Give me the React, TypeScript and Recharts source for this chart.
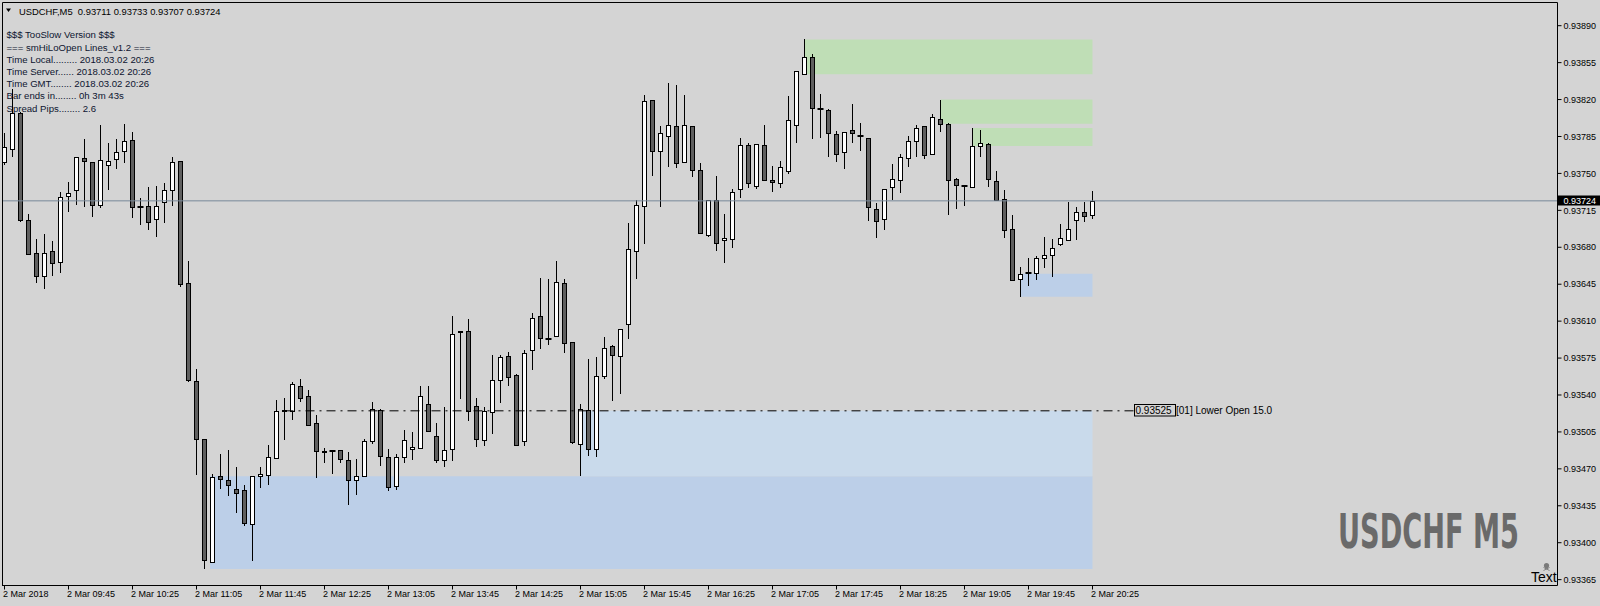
import React from 'react';
import { ComposedChart, Bar, XAxis, YAxis, ReferenceArea, ReferenceLine } from 'recharts';

// ---------- DATA (USDCHF M5, 2 Mar 2018 09:05 .. 20:25) ----------
const opens = [
  0.93761, 0.93773, 0.93807, 0.93706, 0.93675, 0.93653, 0.93676, 0.93666, 0.93729, 0.93734,
  0.93765, 0.93761, 0.93720, 0.93758, 0.93764, 0.93771, 0.93782, 0.93718, 0.93719, 0.93707,
  0.93723, 0.93734, 0.93762, 0.93646, 0.93553, 0.93498, 0.93382, 0.93463, 0.93459, 0.93451,
  0.93450, 0.93418, 0.93463, 0.93464, 0.93480, 0.93526, 0.93525, 0.93549, 0.93539, 0.93513,
  0.93487, 0.93487, 0.93488, 0.93478, 0.93459, 0.93463, 0.93496, 0.93526, 0.93481, 0.93454,
  0.93481, 0.93489, 0.93490, 0.93531, 0.93501, 0.93478, 0.93489, 0.93601, 0.93601, 0.93530,
  0.93497, 0.93524, 0.93554, 0.93577, 0.93559, 0.93496, 0.93583, 0.93615, 0.93593, 0.93596,
  0.93646, 0.93590, 0.93494, 0.93526, 0.93489, 0.93558, 0.93586, 0.93577, 0.93607, 0.93676,
  0.93719, 0.93820, 0.93771, 0.93785, 0.93795, 0.93761, 0.93795, 0.93753, 0.93692, 0.93725,
  0.93687, 0.93688, 0.93735, 0.93777, 0.93738, 0.93777, 0.93744, 0.93741, 0.93752, 0.93796,
  0.93844, 0.93860, 0.93811, 0.93810, 0.93787, 0.93770, 0.93791, 0.93785, 0.93784, 0.93716,
  0.93707, 0.93737, 0.93744, 0.93765, 0.93781, 0.93795, 0.93768, 0.93802, 0.93797, 0.93745,
  0.93738, 0.93737, 0.93776, 0.93778, 0.93743, 0.93726, 0.93697, 0.93650, 0.93656, 0.93656,
  0.93670, 0.93673, 0.93683, 0.93687, 0.93706, 0.93713, 0.93711,
];
const highs = [
  0.93788, 0.93830, 0.93808, 0.93712, 0.93688, 0.93693, 0.93686, 0.93732, 0.93742, 0.93766,
  0.93783, 0.93761, 0.93796, 0.93779, 0.93783, 0.93797, 0.93789, 0.93727, 0.93737, 0.93738,
  0.93741, 0.93766, 0.93762, 0.93667, 0.93565, 0.93498, 0.93465, 0.93484, 0.93488, 0.93472,
  0.93455, 0.93463, 0.93472, 0.93493, 0.93535, 0.93537, 0.93552, 0.93555, 0.93545, 0.93521,
  0.93490, 0.93488, 0.93488, 0.93486, 0.93479, 0.93498, 0.93533, 0.93527, 0.93489, 0.93484,
  0.93507, 0.93505, 0.93549, 0.93549, 0.93513, 0.93529, 0.93615, 0.93601, 0.93612, 0.93537,
  0.93529, 0.93578, 0.93578, 0.93581, 0.93560, 0.93583, 0.93618, 0.93651, 0.93650, 0.93667,
  0.93650, 0.93590, 0.93531, 0.93574, 0.93576, 0.93595, 0.93587, 0.93603, 0.93703, 0.93725,
  0.93824, 0.93820, 0.93795, 0.93836, 0.93834, 0.93824, 0.93795, 0.93760, 0.93725, 0.93748,
  0.93712, 0.93735, 0.93784, 0.93779, 0.93778, 0.93796, 0.93757, 0.93762, 0.93823, 0.93847,
  0.93877, 0.93863, 0.93825, 0.93811, 0.93790, 0.93789, 0.93816, 0.93798, 0.93784, 0.93722,
  0.93735, 0.93759, 0.93768, 0.93785, 0.93796, 0.93795, 0.93806, 0.93820, 0.93798, 0.93746,
  0.93738, 0.93793, 0.93791, 0.93779, 0.93752, 0.93734, 0.93711, 0.93661, 0.93670, 0.93672,
  0.93690, 0.93688, 0.93702, 0.93723, 0.93718, 0.93723, 0.93733,
];
const lows = [
  0.93758, 0.93766, 0.93704, 0.93673, 0.93646, 0.93640, 0.93653, 0.93656, 0.93713, 0.93720,
  0.93718, 0.93709, 0.93717, 0.93734, 0.93754, 0.93760, 0.93708, 0.93701, 0.93696, 0.93690,
  0.93703, 0.93719, 0.93642, 0.93552, 0.93464, 0.93375, 0.93381, 0.93451, 0.93444, 0.93428,
  0.93416, 0.93383, 0.93452, 0.93455, 0.93480, 0.93497, 0.93516, 0.93533, 0.93511, 0.93461,
  0.93476, 0.93465, 0.93476, 0.93436, 0.93445, 0.93462, 0.93494, 0.93473, 0.93449, 0.93450,
  0.93476, 0.93478, 0.93490, 0.93506, 0.93476, 0.93472, 0.93477, 0.93536, 0.93515, 0.93491,
  0.93492, 0.93503, 0.93532, 0.93549, 0.93492, 0.93492, 0.93564, 0.93584, 0.93587, 0.93596,
  0.93580, 0.93494, 0.93463, 0.93482, 0.93481, 0.93555, 0.93534, 0.93541, 0.93593, 0.93650,
  0.93683, 0.93748, 0.93718, 0.93756, 0.93755, 0.93761, 0.93747, 0.93693, 0.93690, 0.93676,
  0.93665, 0.93679, 0.93727, 0.93736, 0.93735, 0.93743, 0.93732, 0.93736, 0.93749, 0.93779,
  0.93844, 0.93783, 0.93784, 0.93766, 0.93761, 0.93754, 0.93779, 0.93771, 0.93705, 0.93689,
  0.93696, 0.93725, 0.93731, 0.93756, 0.93766, 0.93764, 0.93768, 0.93789, 0.93711, 0.93716,
  0.93719, 0.93737, 0.93766, 0.93737, 0.93725, 0.93689, 0.93648, 0.93633, 0.93643, 0.93649,
  0.93660, 0.93652, 0.93681, 0.93687, 0.93687, 0.93704, 0.93707,
];
const closes = [
  0.93775, 0.93807, 0.93706, 0.93674, 0.93653, 0.93675, 0.93665, 0.93728, 0.93731, 0.93766,
  0.93762, 0.93720, 0.93763, 0.93762, 0.93770, 0.93781, 0.93718, 0.93718, 0.93704, 0.93719,
  0.93734, 0.93761, 0.93645, 0.93554, 0.93498, 0.93384, 0.93462, 0.93460, 0.93455, 0.93447,
  0.93419, 0.93463, 0.93465, 0.93481, 0.93525, 0.93525, 0.93550, 0.93537, 0.93512, 0.93487,
  0.93486, 0.93487, 0.93479, 0.93459, 0.93463, 0.93496, 0.93527, 0.93482, 0.93453, 0.93481,
  0.93497, 0.93491, 0.93539, 0.93506, 0.93478, 0.93488, 0.93598, 0.93600, 0.93525, 0.93498,
  0.93525, 0.93554, 0.93576, 0.93557, 0.93493, 0.93580, 0.93613, 0.93594, 0.93593, 0.93647,
  0.93589, 0.93495, 0.93527, 0.93489, 0.93558, 0.93585, 0.93578, 0.93603, 0.93678, 0.93720,
  0.93819, 0.93771, 0.93788, 0.93796, 0.93760, 0.93796, 0.93753, 0.93694, 0.93725, 0.93684,
  0.93689, 0.93732, 0.93777, 0.93741, 0.93778, 0.93744, 0.93742, 0.93756, 0.93801, 0.93847,
  0.93860, 0.93812, 0.93811, 0.93788, 0.93768, 0.93789, 0.93788, 0.93785, 0.93718, 0.93705,
  0.93735, 0.93745, 0.93766, 0.93781, 0.93793, 0.93767, 0.93803, 0.93797, 0.93744, 0.93739,
  0.93738, 0.93776, 0.93779, 0.93745, 0.93725, 0.93696, 0.93649, 0.93655, 0.93656, 0.93670,
  0.93673, 0.93679, 0.93689, 0.93697, 0.93713, 0.93710, 0.93724,
];

const timeTickIndex = [0, 8, 16, 24, 32, 40, 48, 56, 64, 72, 80, 88, 96, 104, 112, 120, 128, 136];
const timeTickLabels = [
  '2 Mar 2018', '2 Mar 09:45', '2 Mar 10:25', '2 Mar 11:05', '2 Mar 11:45', '2 Mar 12:25',
  '2 Mar 13:05', '2 Mar 13:45', '2 Mar 14:25', '2 Mar 15:05', '2 Mar 15:45', '2 Mar 16:25',
  '2 Mar 17:05', '2 Mar 17:45', '2 Mar 18:25', '2 Mar 19:05', '2 Mar 19:45', '2 Mar 20:25',
];
const priceTicks = [
  0.93365, 0.934, 0.93435, 0.9347, 0.93505, 0.9354, 0.93575, 0.9361,
  0.93645, 0.9368, 0.93715, 0.9375, 0.93785, 0.9382, 0.93855, 0.9389,
];
const lastPrice = 0.93724;
const lowerOpenPrice = 0.93525;
const lowerOpenFrom = 35;
const lowerOpenTo = 141.2;

// zones: [startBar, endBar, lowPrice, highPrice]
const supplyZones = [
  [100, 136, 0.93844, 0.93877],
  [117, 136, 0.93797, 0.9382],
  [121, 136, 0.93776, 0.93793],
];
const demandZones = [
  [25.7, 136, 0.93375, 0.93463],
  [127, 136, 0.93633, 0.93655],
];
const openZone = [72, 136, 0.93463, 0.93525];

const headerText = 'USDCHF,M5  0.93711 0.93733 0.93707 0.93724';
const infoLines = [
  '$$$ TooSlow Version $$$',
  '=== smHiLoOpen Lines_v1.2 ===',
  'Time Local......... 2018.03.02 20:26',
  'Time Server...... 2018.03.02 20:26',
  'Time GMT........ 2018.03.02 20:26',
  'Bar ends in........ 0h 3m 43s',
  'Spread Pips........ 2.6',
];
const lowerOpenLabel = '[01] Lower Open 15.0';
const watermark = 'USDCHF M5';
const textObject = 'Text';

const rows = opens.map((o, i) => ({ i, o, h: highs[i], l: lows[i], c: closes[i] }));

// ---------- STYLE ----------
const BG = '#d4d4d4';
const GREEN = '#bfdeb6';
const BLUE_LIGHT = '#c9daeb';
const BLUE_DARK = '#bccfe8';
const BEAR = '#5f5f5f';
const FONT = "'Liberation Sans', Arial, sans-serif";

const W = 1600;
const H = 606;

const Candle = (props: any) => {
  const { x, y, width, height, payload } = props;
  if (!payload || x == null) return null;
  const { o, h, l, c } = payload;
  const cx = Math.round(x + width / 2 - 0.5) + 0.5;
  const top = Math.min(y, y + height);
  const span = Math.abs(height);
  const k = h - l > 0 ? span / (h - l) : 0;
  const yOf = (v: number) => top + (h - v) * k;
  const yH = Math.round(top);
  const yL = Math.round(top + span);
  if (o === c) {
    const yy = Math.round(yOf(o));
    return (
      <g>
        <line x1={cx} x2={cx} y1={yH} y2={yL} stroke="#000" strokeWidth={1} />
        <line x1={cx - 3} x2={cx + 3} y1={yy} y2={yy} stroke="#000" strokeWidth={2} />
      </g>
    );
  }
  const bt = Math.round(yOf(Math.max(o, c))) + 0.5;
  const bb = Math.round(yOf(Math.min(o, c))) + 0.5;
  return (
    <g>
      <line x1={cx} x2={cx} y1={yH} y2={yL} stroke="#000" strokeWidth={1} />
      <rect x={cx - 2} y={bt} width={4} height={Math.max(bb - bt, 1)} fill={c > o ? '#ffffff' : BEAR} stroke="#000" strokeWidth={1} />
    </g>
  );
};

const XTick = (props: any) => {
  const { x, y, payload } = props;
  const idx = timeTickIndex.indexOf(payload.value);
  const label = idx >= 0 ? timeTickLabels[idx] : '';
  return (
    <text x={x - 1.5} y={y + 5.8} textAnchor="start" fontFamily={FONT} fontSize={9} fill="#000">
      {label}
    </text>
  );
};

const YTick = (props: any) => {
  const { x, y, payload } = props;
  return (
    <text x={x} y={y + 3.2} textAnchor="start" fontFamily={FONT} fontSize={9} fill="#000">
      {Number(payload.value).toFixed(5)}
    </text>
  );
};

export default function App() {
  return (
    <div style={{ position: 'absolute', left: 0, top: 0, width: W, height: H, background: BG }}>
      <ComposedChart
        width={W}
        height={H}
        data={rows}
        margin={{ top: 2.5, right: 0, bottom: 0, left: 2 }}
        style={{ background: BG }}
      >
        <XAxis
          type="number"
          dataKey="i"
          domain={[-0.3125, 194.125]}
          allowDataOverflow
          ticks={timeTickIndex}
          interval={0}
          height={20.5}
          tickSize={4}
          tickMargin={2}
          axisLine={{ stroke: '#000' }}
          tickLine={{ stroke: '#000' }}
          tick={<XTick />}
        />
        <YAxis
          orientation="right"
          type="number"
          domain={[0.9335945, 0.9391199]}
          allowDataOverflow
          ticks={priceTicks}
          interval={0}
          width={42.5}
          tickSize={4}
          tickMargin={2}
          axisLine={{ stroke: '#000' }}
          tickLine={{ stroke: '#000' }}
          tick={<YTick />}
        />
        {demandZones.map((z, k) => (
          <ReferenceArea key={'d' + k} x1={z[0]} x2={z[1]} y1={z[2]} y2={z[3]} fill={BLUE_DARK} fillOpacity={1} stroke="none" ifOverflow="visible" />
        ))}
        <ReferenceArea x1={openZone[0]} x2={openZone[1]} y1={openZone[2]} y2={openZone[3]} fill={BLUE_LIGHT} fillOpacity={1} stroke="none" ifOverflow="visible" />
        {supplyZones.map((z, k) => (
          <ReferenceArea key={'s' + k} x1={z[0]} x2={z[1]} y1={z[2]} y2={z[3]} fill={GREEN} fillOpacity={1} stroke="none" ifOverflow="visible" />
        ))}
        <ReferenceLine y={lastPrice} stroke="#778899" strokeWidth={1} ifOverflow="visible" />
        <ReferenceLine
          segment={[{ x: lowerOpenFrom, y: lowerOpenPrice }, { x: lowerOpenTo, y: lowerOpenPrice }]}
          stroke="#000"
          strokeWidth={1}
          strokeDasharray="9 5 2 5"
          ifOverflow="visible"
        />
        <Bar
          dataKey={(d: any) => [d.l, d.h]}
          barSize={6}
          isAnimationActive={false}
          shape={(p: any) => <Candle {...p} />}
        />
      </ComposedChart>
      <svg
        width={W}
        height={H}
        style={{ position: 'absolute', left: 0, top: 0, pointerEvents: 'none' }}
      >
        {/* frame */}
        <line x1={2.5} x2={2.5} y1={2.5} y2={585.5} stroke="#000" />
        <line x1={2.5} x2={1557.5} y1={2.5} y2={2.5} stroke="#000" />
        {/* header */}
        <polygon points="6,8.5 11,8.5 8.5,12" fill="#000" />
        <text x={19} y={14.6} fontFamily={FONT} fontSize={9.4} fill="#000" style={{ whiteSpace: 'pre' }}>
          {headerText}
        </text>
        {infoLines.map((t, k) => (
          <text key={k} x={6.5} y={38.4 + k * 12.2} fontFamily={FONT} fontSize={9.6} fill="#0d1530" style={{ whiteSpace: 'pre' }}>
            {t}
          </text>
        ))}
        {/* current price label */}
        <rect x={1558} y={195.5} width={42} height={10} fill="#000" />
        <text x={1563.5} y={204} fontFamily={FONT} fontSize={9} fill="#fff">
          {lastPrice.toFixed(5)}
        </text>
        {/* lower open label */}
        <rect x={1134.5} y={404.5} width={41} height={11.5} fill="none" stroke="#000" />
        <text x={1135.5} y={414} fontFamily={FONT} fontSize={10} fill="#000">
          {lowerOpenPrice.toFixed(5)}
        </text>
        <text x={1176} y={414} fontFamily={FONT} fontSize={10} fill="#000">
          {lowerOpenLabel}
        </text>
        {/* watermark */}
        <g transform="translate(1338 548) scale(1 1.6)">
          <text
            x={0}
            y={0}
            fontFamily="'DejaVu Sans Condensed', 'DejaVu Sans', sans-serif"
            fontWeight="bold"
            fontSize={30}
            fill="#6a6a6a"
            textLength={181}
            lengthAdjust="spacingAndGlyphs"
          >
            {watermark}
          </text>
        </g>
        {/* text object with small skull icon */}
        <g fill="#7a7a7a" stroke="none">
          <circle cx={1546.5} cy={565.5} r={2.6} />
          <rect x={1545} y={567} width={3} height={1.8} />
        </g>
        <g stroke="#7a7a7a" strokeWidth={0.9}>
          <line x1={1543.5} y1={567.5} x2={1549.5} y2={570.5} />
          <line x1={1549.5} y1={567.5} x2={1543.5} y2={570.5} />
        </g>
        <text x={1531} y={582} fontFamily={FONT} fontSize={14} fill="#000">
          {textObject}
        </text>
      </svg>
    </div>
  );
}
